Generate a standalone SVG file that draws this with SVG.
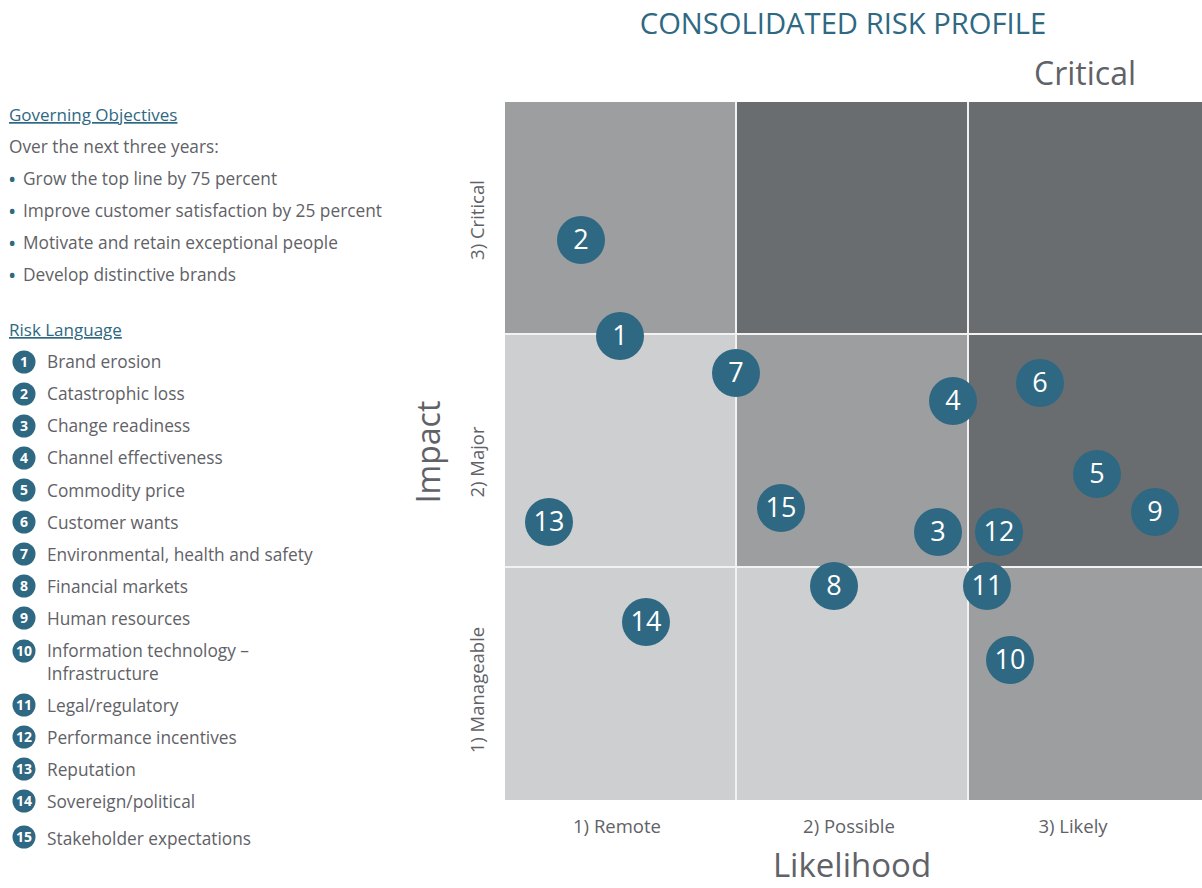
<svg xmlns="http://www.w3.org/2000/svg" width="1202" height="888" viewBox="0 0 1202 888">
<style>
.t{font-family:"Open Sans","Noto Sans","Liberation Sans",sans-serif;fill:#5f6267}
.h{font-family:"Open Sans","Noto Sans","Liberation Sans",sans-serif;fill:#2e6882;font-size:17px;text-decoration:underline}
.li{font-size:17.3px}
.bu{font-size:22px;fill:#2e6882}
.dk{fill:#6a6d70}.md{fill:#9d9ea0}.lt{fill:#cecfd1}
.b circle{fill:#2e6882}
.b text{font-family:"Open Sans","Noto Sans","Liberation Sans",sans-serif;fill:#fff;font-size:27px;text-anchor:middle}
.lg circle{fill:#2e6882}
.lg text.n{font-family:"Open Sans","Noto Sans","Liberation Sans",sans-serif;fill:#fff;font-size:14px;font-weight:bold;text-anchor:middle}
.ax{font-size:18.5px;text-anchor:middle}
</style>
<rect width="1202" height="888" fill="#fff"/>
<g id="title">
<text x="843" y="34" text-anchor="middle" style="font-family:'Open Sans','Noto Sans',sans-serif;fill:#2e6882;font-size:29.2px">CONSOLIDATED RISK PROFILE</text>
<text class="t" x="1085" y="85" text-anchor="middle" font-size="32">Critical</text>
</g>
<g id="objectives">
<text class="h" x="9" y="121">Governing Objectives</text>
<text class="t li" x="9" y="153">Over the next three years:</text>
<text class="t bu" x="8" y="187">•</text><text class="t li" x="23" y="185">Grow the top line by 75 percent</text>
<text class="t bu" x="8" y="219">•</text><text class="t li" x="23" y="217">Improve customer satisfaction by 25 percent</text>
<text class="t bu" x="8" y="251">•</text><text class="t li" x="23" y="249">Motivate and retain exceptional people</text>
<text class="t bu" x="8" y="283">•</text><text class="t li" x="23" y="281">Develop distinctive brands</text>
</g>
<g id="legend" class="lg">
<text class="h" x="9" y="336">Risk Language</text>
<circle cx="24" cy="362" r="11.5"/><text class="n" x="24" y="367">1</text><text class="t li" x="47" y="368">Brand erosion</text>
<circle cx="24" cy="394" r="11.5"/><text class="n" x="24" y="399">2</text><text class="t li" x="47" y="400">Catastrophic loss</text>
<circle cx="24" cy="426" r="11.5"/><text class="n" x="24" y="431">3</text><text class="t li" x="47" y="432">Change readiness</text>
<circle cx="24" cy="458" r="11.5"/><text class="n" x="24" y="463">4</text><text class="t li" x="47" y="464">Channel effectiveness</text>
<circle cx="24" cy="490" r="11.5"/><text class="n" x="24" y="495">5</text><text class="t li" x="47" y="497">Commodity price</text>
<circle cx="24" cy="522" r="11.5"/><text class="n" x="24" y="527">6</text><text class="t li" x="47" y="529">Customer wants</text>
<circle cx="24" cy="554" r="11.5"/><text class="n" x="24" y="559">7</text><text class="t li" x="47" y="561">Environmental, health and safety</text>
<circle cx="24" cy="586" r="11.5"/><text class="n" x="24" y="591">8</text><text class="t li" x="47" y="593">Financial markets</text>
<circle cx="24" cy="618" r="11.5"/><text class="n" x="24" y="623">9</text><text class="t li" x="47" y="625">Human resources</text>
<circle cx="24" cy="651" r="11.5"/><text class="n" x="24" y="656" font-size="12.5">10</text><text class="t li" x="47" y="657">Information technology –</text><text class="t li" x="47" y="680">Infrastructure</text>
<circle cx="24" cy="705" r="11.5"/><text class="n" x="24" y="710" font-size="12.5">11</text><text class="t li" x="47" y="712">Legal/regulatory</text>
<circle cx="24" cy="737" r="11.5"/><text class="n" x="24" y="742" font-size="12.5">12</text><text class="t li" x="47" y="744">Performance incentives</text>
<circle cx="24" cy="769" r="11.5"/><text class="n" x="24" y="774" font-size="12.5">13</text><text class="t li" x="47" y="776">Reputation</text>
<circle cx="24" cy="801" r="11.5"/><text class="n" x="24" y="806" font-size="12.5">14</text><text class="t li" x="47" y="808">Sovereign/political</text>
<circle cx="24" cy="837" r="11.5"/><text class="n" x="24" y="842" font-size="12.5">15</text><text class="t li" x="47" y="845">Stakeholder expectations</text>
</g>
<g id="grid">
<rect class="md" x="505" y="102" width="231" height="232"/>
<rect class="dk" x="736" y="102" width="232" height="232"/>
<rect class="dk" x="968" y="102" width="234" height="232"/>
<rect class="lt" x="505" y="334" width="231" height="233"/>
<rect class="md" x="736" y="334" width="232" height="233"/>
<rect class="dk" x="968" y="334" width="234" height="233"/>
<rect class="lt" x="505" y="567" width="231" height="233"/>
<rect class="lt" x="736" y="567" width="232" height="233"/>
<rect class="md" x="968" y="567" width="234" height="233"/>
<g stroke="#f2f2f2" stroke-width="2">
<line x1="736" y1="102" x2="736" y2="800"/>
<line x1="968" y1="102" x2="968" y2="800"/>
<line x1="505" y1="334" x2="1202" y2="334"/>
<line x1="505" y1="567" x2="1202" y2="567"/>
</g>
</g>
<g id="axes">
<text class="t" x="0" y="0" font-size="32" text-anchor="middle" transform="translate(440,452) rotate(-90)">Impact</text>
<text class="t ax" transform="translate(484,220) rotate(-90)">3) Critical</text>
<text class="t ax" transform="translate(484,462) rotate(-90)">2) Major</text>
<text class="t ax" transform="translate(484,690) rotate(-90)">1) Manageable</text>
<text class="t ax" x="617" y="833">1) Remote</text>
<text class="t ax" x="849" y="833">2) Possible</text>
<text class="t ax" x="1073" y="833">3) Likely</text>
<text class="t" x="852" y="877" font-size="33" text-anchor="middle">Likelihood</text>
</g>
<g id="bubbles" class="b">
<g id="r2"><circle cx="581" cy="240" r="24"/><text x="581" y="249">2</text></g>
<g id="r1"><circle cx="620" cy="336" r="24"/><text x="620" y="345">1</text></g>
<g id="r7"><circle cx="736" cy="373" r="24"/><text x="736" y="382">7</text></g>
<g id="r4"><circle cx="953" cy="401" r="24"/><text x="953" y="410">4</text></g>
<g id="r6"><circle cx="1040" cy="383" r="24"/><text x="1040" y="392">6</text></g>
<g id="r5"><circle cx="1097" cy="474" r="24"/><text x="1097" y="483">5</text></g>
<g id="r9"><circle cx="1155" cy="512" r="24"/><text x="1155" y="521">9</text></g>
<g id="r13"><circle cx="549" cy="522" r="24"/><text x="549" y="531">13</text></g>
<g id="r15"><circle cx="781" cy="508" r="24"/><text x="781" y="517">15</text></g>
<g id="r3"><circle cx="938" cy="532" r="24"/><text x="938" y="541">3</text></g>
<g id="r12"><circle cx="999" cy="532" r="24"/><text x="999" y="541">12</text></g>
<g id="r8"><circle cx="834" cy="586" r="24"/><text x="834" y="595">8</text></g>
<g id="r11"><circle cx="987" cy="586" r="24"/><text x="987" y="595">11</text></g>
<g id="r14"><circle cx="646" cy="622" r="24"/><text x="646" y="631">14</text></g>
<g id="r10"><circle cx="1010" cy="660" r="24"/><text x="1010" y="669">10</text></g>
</g>
</svg>
